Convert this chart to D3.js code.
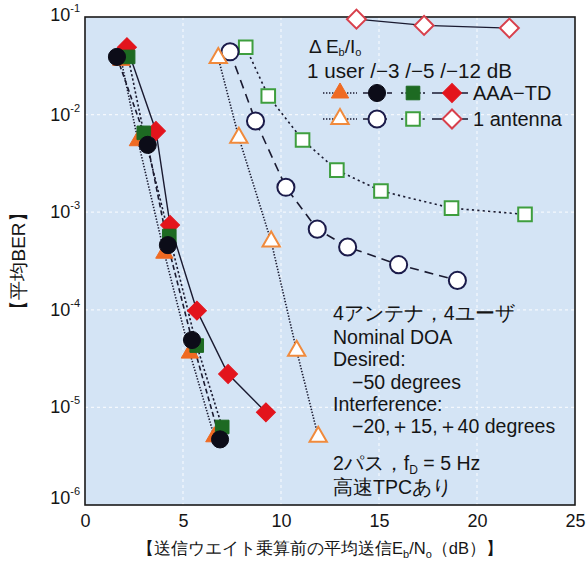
<!DOCTYPE html>
<html>
<head>
<meta charset="utf-8">
<script src="https://cdn.jsdelivr.net/npm/d3@7"></script>
<style>
  body { margin: 0; background: #fff; }
  svg { display: block; }
  text { font-family: "Liberation Sans", Arial, Helvetica, sans-serif; fill: #151515; }
</style>
</head>
<body>
<svg id="chart" width="588" height="562"></svg>
<script>
// ---- axis ticks ----
const xTickValues = [0, 5, 10, 15, 20, 25];
const yTickValues = [1e-1, 1e-2, 1e-3, 1e-4, 1e-5, 1e-6];
const yTickExponents = [-1, -2, -3, -4, -5, -6];

// ---- AAA-TD (filled markers): 1 user, -3 dB, -5 dB, -12 dB ----
const aaaUser1X = [1.85, 2.7, 4.05, 5.35, 6.6];
const aaaUser1Y = [3.6e-2, 5.4e-3, 3.8e-4, 3.6e-5, 5.0e-6];
const aaaM3X = [1.63, 3.2, 4.23, 5.46, 6.89];
const aaaM3Y = [3.9e-2, 4.9e-3, 4.6e-4, 4.9e-5, 4.7e-6];
const aaaM5X = [2.2, 3.0, 4.3, 5.7, 7.0];
const aaaM5Y = [3.9e-2, 6.5e-3, 5.7e-4, 4.3e-5, 6.3e-6];
const aaaM12X = [2.14, 3.62, 4.34, 5.71, 7.3, 9.23];
const aaaM12Y = [4.9e-2, 6.8e-3, 7.4e-4, 9.8e-5, 2.2e-5, 8.9e-6];

// ---- 1 antenna (open markers) ----
const antUser1X = [6.8, 7.85, 9.5, 10.8, 11.9];
const antUser1Y = [3.8e-2, 5.8e-3, 5.0e-4, 3.8e-5, 5.0e-6];
const antM3X = [7.4, 8.7, 10.25, 11.85, 13.4, 16.0, 19.0];
const antM3Y = [4.4e-2, 8.6e-3, 1.8e-3, 6.7e-4, 4.4e-4, 2.9e-4, 2.0e-4];
const antM5X = [8.2, 9.35, 11.1, 12.85, 15.1, 18.7, 22.45];
const antM5Y = [4.9e-2, 1.55e-2, 5.5e-3, 2.7e-3, 1.65e-3, 1.1e-3, 9.5e-4];
const antM12X = [13.85, 17.3, 21.65];
const antM12Y = [9.5e-2, 8.2e-2, 7.7e-2];

// ---- styling per marker kind ----
const ORANGE = "#ef6a22", BLACK = "#0c0c18", GREEN = "#1d6a22", RED = "#e3141c";
const O_ORANGE = "#f08a3c", O_NAVY = "#1b1b4a", O_GREEN = "#3e9e3e", O_RED = "#d8404c";
const LINE = "#1a1a30";

const zip = (xs, ys) => xs.map((x, i) => ({ x, y: ys[i] }));

const series = [
  { pts: zip(antM5X, antM5Y),    shape: "square",   fill: "#fff", stroke: O_GREEN,  dash: "2.2,3.2", sw: 1.6 },
  { pts: zip(antM3X, antM3Y),    shape: "circle",   fill: "#fff", stroke: O_NAVY,   dash: "9,6",     sw: 1.6 },
  { pts: zip(antUser1X, antUser1Y), shape: "triangle", fill: "#fff", stroke: O_ORANGE, dash: "1.4,1.6", sw: 1.6 },
  { pts: zip(antM12X, antM12Y),  shape: "diamond",  fill: "#fff", stroke: O_RED,    dash: null,      sw: 1.4 },
  { pts: zip(aaaUser1X, aaaUser1Y), shape: "triangle", fill: ORANGE, stroke: ORANGE, dash: "1.4,1.6", sw: 1.6 },
  { pts: zip(aaaM12X, aaaM12Y),  shape: "diamond",  fill: RED,    stroke: RED,      dash: null,      sw: 1.4 },
  { pts: zip(aaaM5X, aaaM5Y),    shape: "square",   fill: GREEN,  stroke: GREEN,    dash: "2.2,2.2", sw: 1.6 },
  { pts: zip(aaaM3X, aaaM3Y),    shape: "circle",   fill: BLACK,  stroke: BLACK,    dash: "5,3",     sw: 1.6 }
];

const svg = d3.select("#chart");
const margin = { left: 85, right: 13, top: 17, bottom: 57 };
const W = 588, H = 562;

const x = d3.scaleLinear().domain([0, 25]).range([margin.left, W - margin.right]);
const y = d3.scaleLog().domain([1e-6, 1e-1]).range([H - margin.bottom, margin.top]);

// plot background
svg.append("rect")
  .attr("x", x(0)).attr("y", y(1e-1))
  .attr("width", x(25) - x(0)).attr("height", y(1e-6) - y(1e-1))
  .attr("fill", "#d4e4f5");

// grid lines
const grid = svg.append("g").attr("stroke", "#f4f8fd").attr("stroke-width", 1.2).attr("stroke-dasharray", "3,3");
grid.selectAll("line.gx").data(xTickValues.slice(1, -1)).join("line")
  .attr("x1", d => x(d)).attr("x2", d => x(d))
  .attr("y1", y(1e-1)).attr("y2", y(1e-6));
grid.selectAll("line.gy").data(yTickValues.slice(1, -1)).join("line")
  .attr("x1", x(0)).attr("x2", x(25))
  .attr("y1", d => y(d)).attr("y2", d => y(d));

// frame
svg.append("rect")
  .attr("x", x(0)).attr("y", y(1e-1))
  .attr("width", x(25) - x(0)).attr("height", y(1e-6) - y(1e-1))
  .attr("fill", "none").attr("stroke", "#1a1a1a").attr("stroke-width", 1.6);

// x axis tick labels
const xAxis = d3.axisBottom(x).tickValues(xTickValues).tickSize(0).tickPadding(9).tickFormat(d3.format("d"));
const gx = svg.append("g").attr("transform", `translate(0,${y(1e-6)})`).call(xAxis);
gx.select(".domain").remove();
gx.selectAll("text").attr("font-size", 18).attr("fill", "#151515")
  .style("font-family", '"Liberation Sans", Arial, sans-serif');

// y axis tick labels as powers of ten
const yLab = svg.append("g");
yTickValues.forEach((v, i) => {
  const shift = (i === yTickValues.length - 1) ? -7 : (i === 0 ? -2 : 0);
  const t = yLab.append("text")
    .attr("x", 80).attr("y", y(v) + 6 + shift)
    .attr("text-anchor", "end").attr("font-size", 18);
  t.append("tspan").text("10");
  t.append("tspan").attr("dy", -9).attr("font-size", 11).text("-" + Math.abs(yTickExponents[i]));
});

// axis titles
svg.append("text")
  .attr("transform", `translate(25,${(y(1e-1) + y(1e-6)) / 2}) rotate(-90)`)
  .attr("text-anchor", "middle").attr("font-size", 19)
  .text("【平均BER】");

const xt = svg.append("text")
  .attr("x", 320).attr("y", 554).attr("text-anchor", "middle").attr("font-size", 16.5);
xt.append("tspan").text("【送信ウエイト乗算前の平均送信E");
xt.append("tspan").attr("font-size", 11).attr("dy", 4).text("b");
xt.append("tspan").attr("dy", -4).text("/N");
xt.append("tspan").attr("font-size", 11).attr("dy", 4).text("o");
xt.append("tspan").attr("dy", -4).text("（dB）】");

// marker generator
const symbolSize = { circle: 230, square: 185, diamond: 180, triangle: 130 };
const symbolType = { circle: d3.symbolCircle, square: d3.symbolSquare, diamond: d3.symbolSquare, triangle: d3.symbolTriangle };
function marker(sel, s) {
  const path = d3.symbol().type(symbolType[s.shape]).size(symbolSize[s.shape])();
  return sel.append("path")
    .attr("d", path)
    .attr("fill", s.fill)
    .attr("stroke", s.stroke)
    .attr("stroke-width", s.fill === "#fff" ? 2 : 1)
    .attr("transform", s.shape === "diamond" ? "rotate(45)" : null);
}

// lines
const line = d3.line().x(d => x(d.x)).y(d => y(d.y));
const linesG = svg.append("g");
series.forEach(s => {
  linesG.append("path")
    .datum(s.pts)
    .attr("d", line)
    .attr("fill", "none")
    .attr("stroke", LINE)
    .attr("stroke-width", s.sw)
    .attr("stroke-dasharray", s.dash);
});

// markers
const marksG = svg.append("g");
series.forEach(s => {
  s.pts.forEach(p => {
    const g = marksG.append("g").attr("transform", `translate(${x(p.x)},${y(p.y)})`);
    marker(g, s);
  });
});

// legend
const leg = svg.append("g");
const l1 = leg.append("text").attr("x", 309).attr("y", 53).attr("font-size", 19);
l1.append("tspan").text("Δ E");
l1.append("tspan").attr("font-size", 11).attr("dy", 3).text("b");
l1.append("tspan").attr("dy", -3).text("/I");
l1.append("tspan").attr("font-size", 11).attr("dy", 3).text("o");
leg.append("text").attr("x", 307).attr("y", 78).attr("font-size", 20)
  .attr("textLength", 205).attr("lengthAdjust", "spacingAndGlyphs")
  .text("1 user /−3 /−5 /−12 dB");

const legendRows = [
  { yy: 93, items: [series[4], series[7], series[6], series[5]], label: "AAA−TD" },
  { yy: 119, items: [series[2], series[1], series[0], series[3]], label: "1 antenna" }
];
const legX = [340, 377, 413, 452];
const legSeg = [[323, 357], [363, 392], [401, 425], [432, 468]];
legendRows.forEach(r => {
  r.items.forEach((s, i) => {
    leg.append("line")
      .attr("x1", legSeg[i][0]).attr("x2", legSeg[i][1])
      .attr("y1", r.yy).attr("y2", r.yy)
      .attr("stroke", LINE).attr("stroke-width", s.sw)
      .attr("stroke-dasharray", s.dash);
    const g = leg.append("g").attr("transform", `translate(${legX[i]},${r.yy})`);
    marker(g, s);
  });
  leg.append("text").attr("x", 473).attr("y", r.yy + 7).attr("font-size", 20).text(r.label);
});

// annotation block
const ann = svg.append("g").attr("font-size", 19.5);
const annLines = [
  { x: 333, y: 320, t: "4アンテナ，4ユーザ" },
  { x: 333, y: 344, t: "Nominal DOA" },
  { x: 333, y: 366, t: "Desired:" },
  { x: 352, y: 389, t: "−50 degrees" },
  { x: 333, y: 411, t: "Interference:" },
  { x: 352, y: 433, t: "−20,＋15,＋40 degrees" },
  { x: 333, y: 494, t: "高速TPCあり" }
];
annLines.forEach(a => ann.append("text").attr("x", a.x).attr("y", a.y).text(a.t));
const fd = ann.append("text").attr("x", 333).attr("y", 470);
fd.append("tspan").text("2パス，f");
fd.append("tspan").attr("font-size", 12).attr("dy", 4).text("D");
fd.append("tspan").attr("dy", -4).text(" = 5 Hz");
</script>
</body>
</html>
